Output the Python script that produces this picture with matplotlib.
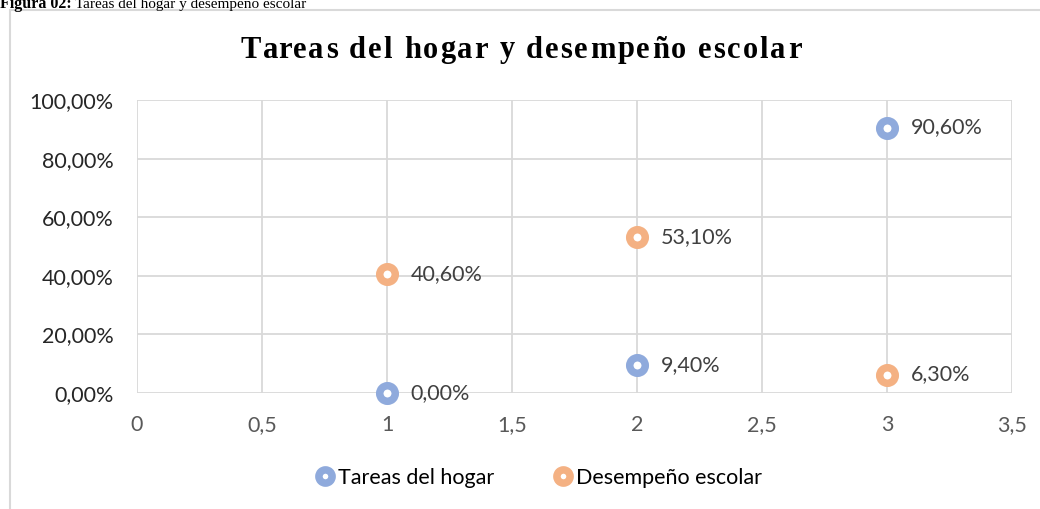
import matplotlib.pyplot as plt
from matplotlib.ticker import FuncFormatter, MultipleLocator
from matplotlib.patches import Rectangle

# datos
x_hogar = [1, 2, 3]
y_hogar = [0.0, 9.4, 90.6]
x_desemp = [1, 2, 3]
y_desemp = [40.6, 53.1, 6.3]
series = ["Tareas del hogar", "Desempeño escolar"]
titulo = "Tareas del hogar y desempeño escolar"

azul = "#8FAADC"
naranja = "#F4B183"
gris_txt = "#595959"
fs = 15.5

fig = plt.figure(figsize=(10.4, 5.09), dpi=100)
ax = fig.add_axes([137 / 1040, 1 - 393 / 509, 875 / 1040, 293 / 509])

# borde del grafico
fig.patches.append(Rectangle((10 / 1040, -0.05), 1.1, 1 - 10 / 509 + 0.05,
                             transform=fig.transFigure, fill=False,
                             edgecolor="#D9D9D9", linewidth=1.5))

# rotulo de la figura (cortado arriba)
fig.text(0.0, 1 - 8 / 509, "Figura 02:", family="Liberation Serif",
         weight="bold", fontsize=11.5, va="baseline", ha="left")
fig.text(75 / 1040, 1 - 8 / 509, titulo,
         family="Liberation Serif", fontsize=11, va="baseline", ha="left")

mk = dict(marker="o", linestyle="none", markersize=11.2, markeredgewidth=5.4,
          markerfacecolor="white", zorder=3, clip_on=False)
ax.plot(x_hogar, y_hogar, markeredgecolor=azul, label=series[0], **mk)
ax.plot(x_desemp, y_desemp, markeredgecolor=naranja, label=series[1], **mk)

for xs, ys in [(x_hogar, y_hogar), (x_desemp, y_desemp)]:
    for x, y in zip(xs, ys):
        ax.annotate(f"{y:.2f}".replace(".", ",") + "%", (x, y),
                    xytext=(17, 0), textcoords="offset points",
                    va="center", ha="left", fontsize=fs, family="Lato",
                    color="#404040")

ax.set_xlim(0, 3.5)
ax.set_ylim(0, 100)
ax.xaxis.set_major_locator(MultipleLocator(0.5))
ax.yaxis.set_major_locator(MultipleLocator(20))
ax.xaxis.set_major_formatter(FuncFormatter(lambda v, p: f"{v:g}".replace(".", ",")))
ax.yaxis.set_major_formatter(FuncFormatter(lambda v, p: f"{v:.2f}".replace(".", ",") + "%"))
ax.tick_params(length=0, labelsize=fs, colors=gris_txt)
ax.tick_params(axis="y", pad=17, labelcolor="#262626")
ax.tick_params(axis="x", pad=16)
for lab in ax.get_xticklabels() + ax.get_yticklabels():
    lab.set_family("Lato")
ax.grid(True, color="#D9D9D9", linewidth=1.3)
ax.set_axisbelow(True)
for s in ax.spines.values():
    s.set_visible(False)

# titulo con espaciado entre letras
renderer = fig.canvas.get_renderer()
tprops = dict(family="Liberation Serif", weight="bold", fontsize=22,
              va="center", ha="left", color="black")
sp = 2.0  # px extra entre letras


def ancho(s):
    if not s:
        return 0.0
    t = fig.text(0, 0, s, **tprops)
    w = t.get_window_extent(renderer).width
    t.remove()
    return w


total = ancho(titulo) + sp * (len(titulo) - 1)
x0 = 521 - total / 2
for i, ch in enumerate(titulo):
    xp = x0 + ancho(titulo[:i]) + sp * i
    fig.text(xp / 1040, 1 - 50 / 509, ch, **tprops)

leg = ax.legend(loc="center", bbox_to_anchor=(537 / 1040, 1 - 478 / 509),
                bbox_transform=fig.transFigure, ncol=2, frameon=False,
                prop={"family": "Lato", "size": fs}, handletextpad=0.0,
                columnspacing=2.6, markerscale=0.85, handlelength=1.2)

fig.savefig("out.png", dpi=100)
